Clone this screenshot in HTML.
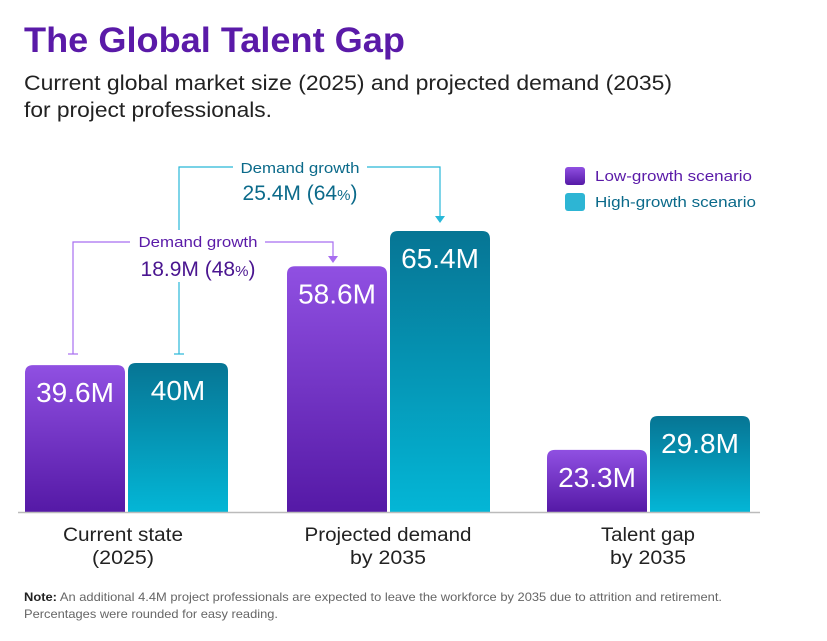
<!DOCTYPE html>
<html><head><meta charset="utf-8"><style>
body{margin:0;background:#fff;width:827px;height:636px;overflow:hidden;font-family:"Liberation Sans",sans-serif}
</style></head><body>
<svg width="827" height="636" viewBox="0 0 827 636">
<defs>
<linearGradient id="gp" x1="0" y1="0" x2="0" y2="1"><stop offset="0" stop-color="#9050e2"/><stop offset="1" stop-color="#5519a6"/></linearGradient>
<linearGradient id="gt" x1="0" y1="0" x2="0" y2="1"><stop offset="0" stop-color="#067594"/><stop offset="1" stop-color="#04b6d6"/></linearGradient>
</defs>
<text x="24" y="52" font-size="35" font-weight="bold" fill="#5a1aa8" textLength="381" lengthAdjust="spacingAndGlyphs">The Global Talent Gap</text>
<text x="24" y="90" font-size="21" fill="#222" textLength="648" lengthAdjust="spacingAndGlyphs">Current global market size (2025) and projected demand (2035)</text>
<text x="24" y="117" font-size="21" fill="#222" textLength="248" lengthAdjust="spacingAndGlyphs">for project professionals.</text>
<g>
<rect x="565" y="167" width="20" height="18" rx="3" fill="url(#gp)"/>
<text x="595" y="181" font-size="15" fill="#5a1aa8" textLength="157" lengthAdjust="spacingAndGlyphs">Low-growth scenario</text>
<rect x="565" y="193" width="20" height="18" rx="3" fill="#2db5d4"/>
<text x="595" y="207" font-size="15" fill="#0b6a8a" textLength="161" lengthAdjust="spacingAndGlyphs">High-growth scenario</text>
</g>
<g id="bars"></g>
<line x1="18" y1="512.5" x2="760" y2="512.5" stroke="#bbb" stroke-width="1.5"/>
<g font-size="19" fill="#222" text-anchor="middle" lengthAdjust="spacingAndGlyphs">
<text x="123" y="541" textLength="120" lengthAdjust="spacingAndGlyphs">Current state</text>
<text x="123" y="564" textLength="62" lengthAdjust="spacingAndGlyphs">(2025)</text>
<text x="388" y="541" textLength="167" lengthAdjust="spacingAndGlyphs">Projected demand</text>
<text x="388" y="564" textLength="76" lengthAdjust="spacingAndGlyphs">by 2035</text>
<text x="648" y="541" textLength="94" lengthAdjust="spacingAndGlyphs">Talent gap</text>
<text x="648" y="564" textLength="76" lengthAdjust="spacingAndGlyphs">by 2035</text>
</g>
<g fill="none" stroke-width="1.2">
<path d="M73 354 V242 H130 M265 242 H333 V256" stroke="#a86ef0"/>
<path d="M68 354 H78" stroke="#a86ef0"/>
<path d="M328 256 L338 256 L333 263 Z" fill="#a86ef0" stroke="none"/>
</g>
<g fill="none" stroke-width="1.2">
<path d="M179 230 V167 H233 M367 167 H440 V216 M179 282 V354" stroke="#28b8d8"/>
<path d="M174 354 H184" stroke="#28b8d8"/>
<path d="M435 216 L445 216 L440 223 Z" fill="#28b8d8" stroke="none"/>
</g>
<text x="198" y="247" font-size="15" fill="#5a1aa8" text-anchor="middle" textLength="119" lengthAdjust="spacingAndGlyphs">Demand growth</text>
<text x="198" y="276" font-size="21" fill="#4a1590" text-anchor="middle">18.9M (48<tspan font-size="15">%</tspan>)</text>
<text x="300" y="173" font-size="15" fill="#0b6a8a" text-anchor="middle" textLength="119" lengthAdjust="spacingAndGlyphs">Demand growth</text>
<text x="300" y="200" font-size="21" fill="#0b6a8a" text-anchor="middle">25.4M (64<tspan font-size="15">%</tspan>)</text>
<text x="24" y="601" font-size="12" fill="#666" textLength="698" lengthAdjust="spacingAndGlyphs"><tspan font-weight="bold" fill="#222">Note:</tspan> An additional 4.4M project professionals are expected to leave the workforce by 2035 due to attrition and retirement.</text>
<text x="24" y="618" font-size="12" fill="#666" textLength="254" lengthAdjust="spacingAndGlyphs">Percentages were rounded for easy reading.</text>
</svg>
<script>
const categories=["Current state (2025)","Projected demand by 2035","Talent gap by 2035"];
const lowValues=[39.6,58.6,23.3];
const highValues=[40,65.4,29.8];
const lowLabels=["39.6M","58.6M","23.3M"];
const highLabels=["40M","65.4M","29.8M"];
const baseY=512, domainMin=11.35, pxPerUnit=5.2;
function yScale(v){return baseY-(v-domainMin)*pxPerUnit;}
const groupX=[25,287,547], barW=100, gap=3;
const g=document.getElementById('bars');
const ns="http://www.w3.org/2000/svg";
function bar(x,v,fill,label,name){
  const y=yScale(v);
  const p=document.createElementNS(ns,'path');
  const r=8;
  p.setAttribute('d',`M${x} ${baseY} V${y+r} Q${x} ${y} ${x+r} ${y} H${x+barW-r} Q${x+barW} ${y} ${x+barW} ${y+r} V${baseY} Z`);
  p.setAttribute('fill',fill);
  
  
  g.appendChild(p);
  const t=document.createElementNS(ns,'text');
  t.setAttribute('x',x+barW/2);t.setAttribute('y',y+37);
  t.setAttribute('text-anchor','middle');t.setAttribute('font-size','28');
  t.setAttribute('fill','#fff');t.textContent=label;
  
  
  g.appendChild(t);
}
categories.forEach((c,i)=>{
  bar(groupX[i],lowValues[i],'url(#gp)',lowLabels[i],'bar-low-'+i);
  bar(groupX[i]+barW+gap,highValues[i],'url(#gt)',highLabels[i],'bar-high-'+i);
});
</script>
</body></html>
